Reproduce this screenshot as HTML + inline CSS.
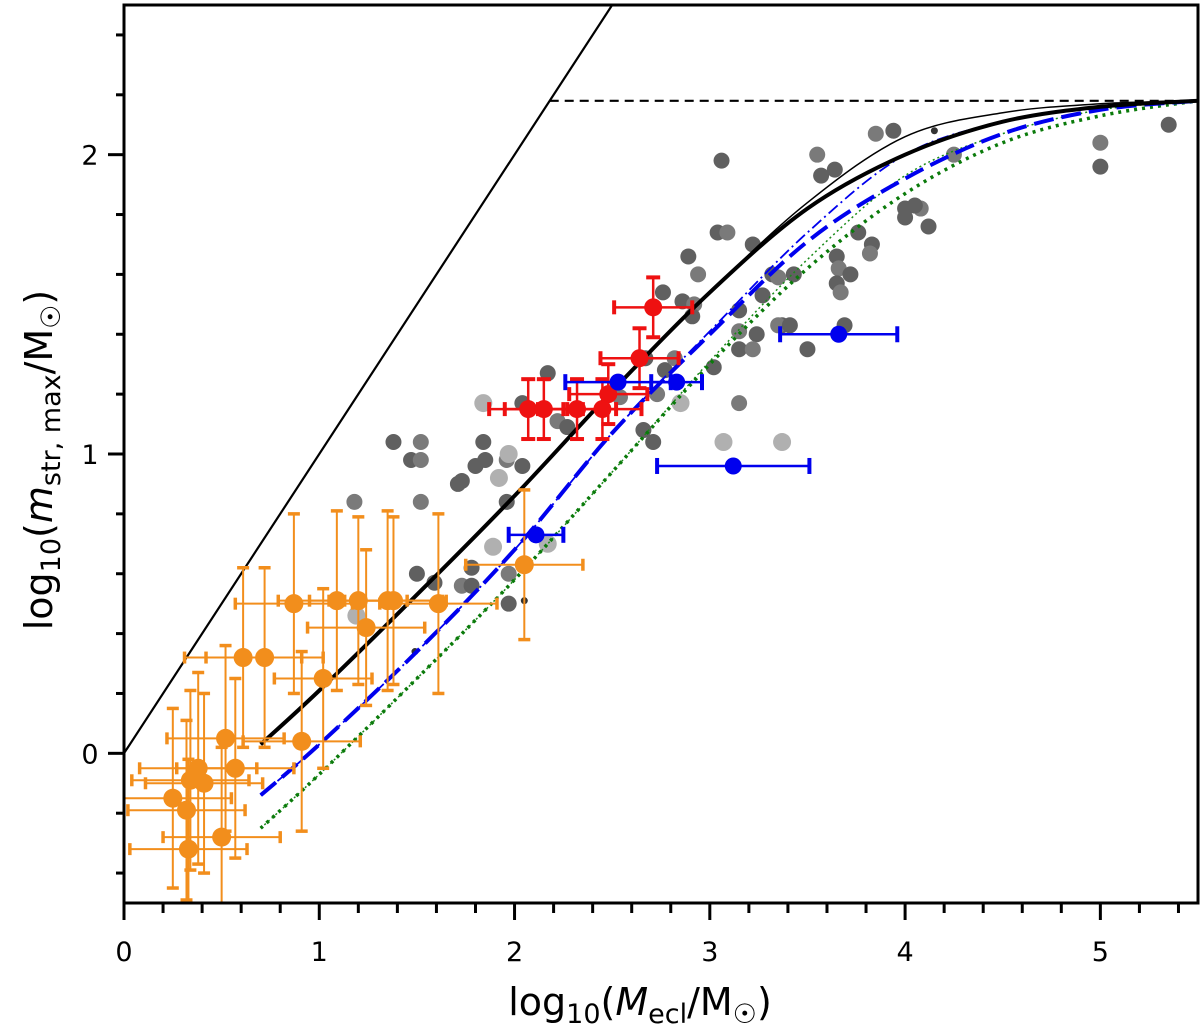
<!DOCTYPE html>
<html><head><meta charset="utf-8">
<style>
html,body{margin:0;padding:0;background:#fff;}
svg{display:block;font-family:"DejaVu Sans","Liberation Sans",sans-serif;}
</style></head>
<body>
<svg id="chart" width="1200" height="1032" viewBox="0 0 1200 1032" xmlns="http://www.w3.org/2000/svg">
<defs><clipPath id="clip"><rect x="124" y="5" width="1074" height="898"/></clipPath></defs>
<g id="plot" clip-path="url(#clip)"></g>
<g id="axes"></g>
<text x="640" y="1015" font-size="38" text-anchor="middle">log<tspan font-size="27" dy="8">10</tspan><tspan dy="-8">(</tspan><tspan font-style="italic">M</tspan><tspan font-size="27" dy="8">ecl</tspan><tspan dy="-8">/M</tspan><tspan font-size="27" dy="8">☉</tspan><tspan dy="-8">)</tspan></text>
<text transform="translate(52,460) rotate(-90)" font-size="38" text-anchor="middle">log<tspan font-size="27" dy="8">10</tspan><tspan dy="-8">(</tspan><tspan font-style="italic">m</tspan><tspan font-size="27" dy="8">str, max</tspan><tspan dy="-8">/M</tspan><tspan font-size="27" dy="8">☉</tspan><tspan dy="-8">)</tspan></text>
</svg>
<script>
// ---- data ----
const xTicks=[0,1,2,3,4,5];
const yTicks=[0,1,2];
const xTickLabels=["0","1","2","3","4","5"];
const yTickLabels=["0","1","2"];
// gray cluster points (dark)
const grayX=[3.06,3.55,3.57,3.64,3.85,3.94,3.04,3.09,3.22,2.89,2.94,2.76,2.86,2.92,2.91,3.15,3.15,3.24,3.15,3.22,3.27,3.32,3.35,3.43,3.37,3.35,3.41,3.65,3.66,3.72,3.65,3.67,3.76,3.83,3.82,3.69,3.50,3.15,2.71,2.66,2.73,2.77,2.67,2.82,2.17,2.04,2.22,2.27,1.38,1.52,1.84,1.47,1.52,1.80,1.85,1.96,2.04,1.73,1.52,1.71,1.96,1.18,1.50,1.59,1.73,1.78,1.78,1.97,1.97,4.00,5.00,5.00,5.35,4.08,4.00,4.12,4.25,4.05,3.02,2.54];
const grayY=[1.98,2.00,1.93,1.95,2.07,2.08,1.74,1.74,1.70,1.66,1.60,1.54,1.51,1.50,1.46,1.48,1.41,1.40,1.35,1.35,1.53,1.60,1.59,1.60,1.43,1.43,1.43,1.66,1.62,1.60,1.57,1.54,1.74,1.70,1.67,1.43,1.35,1.17,1.04,1.08,1.20,1.28,1.32,1.32,1.27,1.17,1.11,1.09,1.04,1.04,1.04,0.98,0.98,0.96,0.98,0.98,0.96,0.91,0.84,0.90,0.84,0.84,0.60,0.57,0.56,0.62,0.56,0.60,0.50,1.82,2.04,1.96,2.10,1.82,1.79,1.76,2.00,1.83,1.29,1.19];
// light gray points
const lightX=[3.07,3.37,2.85,1.84,1.97,1.92,1.89,2.17,1.19];
const lightY=[1.04,1.04,1.17,1.17,1.00,0.92,0.69,0.70,0.46];
// small dark points
const smallX=[2.05,1.49,4.15];
const smallY=[0.51,0.34,2.08];
// orange (with errors)
const orX=[0.87,1.09,1.20,1.35,1.38,1.61,1.24,0.61,0.72,1.02,0.52,0.91,0.38,0.57,0.34,0.41,0.25,0.32,0.50,0.33,2.05];
const orY=[0.50,0.51,0.51,0.51,0.51,0.50,0.42,0.32,0.32,0.25,0.05,0.04,-0.05,-0.05,-0.09,-0.10,-0.15,-0.19,-0.28,-0.32,0.63];
const orXerr=[0.30,0.30,0.25,0.30,0.25,0.30,0.30,0.30,0.30,0.25,0.30,0.30,0.30,0.30,0.30,0.30,0.30,0.30,0.30,0.30,0.30];
const orYerr=[0.30,0.30,0.28,0.30,0.28,0.30,0.26,0.30,0.30,0.30,0.31,0.30,0.32,0.30,0.30,0.30,0.30,0.30,0.30,0.30,0.25];
// red
const redX=[2.71,2.64,2.48,2.07,2.15,2.32,2.45];
const redY=[1.49,1.32,1.20,1.15,1.15,1.15,1.15];
const redXerr=[0.20,0.20,0.20,0.20,0.20,0.20,0.20];
const redYerr=[0.10,0.10,0.10,0.10,0.10,0.10,0.10];
// blue
const blueX=[2.53,2.83,3.66,3.12,2.11];
const blueY=[1.24,1.24,1.40,0.96,0.73];
const blueXerr=[0.27,0.13,0.30,0.39,0.14];
// model curves
const curveX=[0.7,1.0,1.5,2.0,2.5,3.0,3.5,4.0,4.5,5.0,5.5];
const blackThick=[0.03,0.21,0.53,0.86,1.21,1.54,1.82,2.00,2.11,2.16,2.18];
const blackThin=[0.03,0.21,0.53,0.86,1.21,1.54,1.84,2.06,2.14,2.17,2.18];
const blueDash=[-0.14,0.03,0.34,0.68,1.07,1.40,1.71,1.92,2.07,2.15,2.18];
const blueDashDot=[-0.14,0.03,0.34,0.68,1.07,1.41,1.74,2.00,2.11,2.16,2.18];
const greenDot=[-0.25,-0.07,0.25,0.58,0.94,1.30,1.62,1.87,2.04,2.13,2.18];
const greenThin=[-0.25,-0.07,0.25,0.58,0.94,1.31,1.65,1.93,2.07,2.15,2.18];
const diagX=[0,2.6];
const diagY=[0,2.6];
const capValue=2.18;

// ---- axis functions ----
const X0=124,X1=1198,Y0=903,Y1=5,XMIN=0,XMAX=5.5,YMIN=-0.5,YMAX=2.5;
const sx=v=>X0+(v-XMIN)/(XMAX-XMIN)*(X1-X0);
const sy=v=>Y0-(v-YMIN)/(YMAX-YMIN)*(Y0-Y1);
const NS="http://www.w3.org/2000/svg";
const plot=document.getElementById('plot');
const axes=document.getElementById('axes');
function mk(tag,attrs,parent){const e=document.createElementNS(NS,tag);for(const k in attrs)e.setAttribute(k,attrs[k]);parent.appendChild(e);return e;}
function line(xs,ys,style,name){
  const d=xs.map((x,i)=>(i?'L':'M')+sx(x).toFixed(1)+','+sy(ys[i]).toFixed(1)).join('');
  const p=mk('path',Object.assign({d:d,fill:'none'},style),plot);
  
  
}
function smooth(xs,ys,style,name){
  let d='M'+sx(xs[0]).toFixed(1)+','+sy(ys[0]).toFixed(1);
  for(let i=0;i<xs.length-1;i++){
    const x0=sx(xs[Math.max(i-1,0)]),y0=sy(ys[Math.max(i-1,0)]);
    const x1=sx(xs[i]),y1=sy(ys[i]),x2=sx(xs[i+1]),y2=sy(ys[i+1]);
    const x3=sx(xs[Math.min(i+2,xs.length-1)]),y3=sy(ys[Math.min(i+2,xs.length-1)]);
    d+='C'+(x1+(x2-x0)/6).toFixed(1)+','+(y1+(y2-y0)/6).toFixed(1)+' '+(x2-(x3-x1)/6).toFixed(1)+','+(y2-(y3-y1)/6).toFixed(1)+' '+x2.toFixed(1)+','+y2.toFixed(1);
  }
  const p=mk('path',Object.assign({d:d,fill:'none'},style),plot);
  
  
}
function dot(x,y,r,fill,name){
  const c=mk('circle',{cx:sx(x),cy:sy(y),r:r,fill:fill},plot);
  
  
}
function errbar(x,y,xe,ye,color,w,cap,name){
  const g=mk('g',{stroke:color,'stroke-width':w,fill:'none'},plot);
  
  
  if(xe>0){
    mk('line',{x1:sx(x-xe),x2:sx(x+xe),y1:sy(y),y2:sy(y)},g);
    mk('line',{x1:sx(x-xe),x2:sx(x-xe),y1:sy(y)-cap,y2:sy(y)+cap,'stroke-width':w+1.5},g);
    mk('line',{x1:sx(x+xe),x2:sx(x+xe),y1:sy(y)-cap,y2:sy(y)+cap,'stroke-width':w+1.5},g);
  }
  if(ye>0){
    mk('line',{x1:sx(x),x2:sx(x),y1:sy(y-ye),y2:sy(y+ye)},g);
    mk('line',{x1:sx(x)-cap,x2:sx(x)+cap,y1:sy(y-ye),y2:sy(y-ye),'stroke-width':w+1.5},g);
    mk('line',{x1:sx(x)-cap,x2:sx(x)+cap,y1:sy(y+ye),y2:sy(y+ye),'stroke-width':w+1.5},g);
  }
}

// gray points
grayX.forEach((x,i)=>dot(x,grayY[i],8,i%3===1?'#7a7a7a':'#606060','gray-cluster-point'));
lightX.forEach((x,i)=>dot(x,lightY[i],9,'#b0b0b0','light-gray-point'));
smallX.forEach((x,i)=>dot(x,smallY[i],3.5,'#333','small-dark-point'));

// reference lines
line(diagX,diagY,{stroke:'#000','stroke-width':2.2},'one-to-one-line');
line([capValue,XMAX],[capValue,capValue],{stroke:'#000','stroke-width':2.2,'stroke-dasharray':'9,6'},'upper-limit-dashed-line');

// model curves
smooth(curveX,greenThin,{stroke:'#1a8a1a','stroke-width':1.5,'stroke-dasharray':'2,3'},'green-thin-dotted-curve');
smooth(curveX,greenDot,{stroke:'#0a7a0a','stroke-width':3.5,'stroke-dasharray':'3,5'},'green-dotted-curve');
smooth(curveX,blueDashDot,{stroke:'#0000ee','stroke-width':1.8,'stroke-dasharray':'12,4,2,4'},'blue-dashdot-curve');
smooth(curveX,blueDash,{stroke:'#0000ee','stroke-width':4,'stroke-dasharray':'20,8'},'blue-dashed-curve');
smooth(curveX,blackThin,{stroke:'#000','stroke-width':1.5},'black-thin-curve');
smooth(curveX,blackThick,{stroke:'#000','stroke-width':4},'black-thick-curve');

// orange
orX.forEach((x,i)=>errbar(x,orY[i],orXerr[i],orYerr[i],'#f28e1c',2,6,'orange-error-bar'));
orX.forEach((x,i)=>dot(x,orY[i],9.5,'#f28e1c','orange-point'));
// red
redX.forEach((x,i)=>errbar(x,redY[i],redXerr[i],redYerr[i],'#ee1111',2.5,7,'red-error-bar'));
redX.forEach((x,i)=>dot(x,redY[i],9,'#ee1111','red-point'));
// blue
blueX.forEach((x,i)=>errbar(x,blueY[i],blueXerr[i],0,'#0000ee',2.5,8,'blue-error-bar'));
blueX.forEach((x,i)=>dot(x,blueY[i],8.5,'#0000ee','blue-point'));

// frame & ticks
const fr=mk('rect',{x:X0,y:Y1,width:X1-X0,height:Y0-Y1,fill:'none',stroke:'#000','stroke-width':3},axes);


for(let v=0;v<=5.5+1e-6;v+=0.2){
  const major=Math.abs(v-Math.round(v))<1e-6;
  const t=mk('line',{x1:sx(v),x2:sx(v),y1:Y0,y2:Y0+(major?17:10),stroke:'#000','stroke-width':3},axes);
  
  
}
for(let v=-0.4;v<=2.5;v+=0.2){
  const vv=Math.round(v*10)/10;
  const major=Math.abs(vv-Math.round(vv))<1e-6;
  const t=mk('line',{x1:X0-(major?16:8),x2:X0,y1:sy(vv),y2:sy(vv),stroke:'#000','stroke-width':3},axes);
  
  
}
xTicks.forEach((v,i)=>{
  const t=mk('text',{x:sx(v),y:961,'font-size':27,'text-anchor':'middle',fill:'#000'},axes);
  t.textContent=xTickLabels[i];
  
  
});
yTicks.forEach((v,i)=>{
  const t=mk('text',{x:90,y:sy(v)+10,'font-size':27,'text-anchor':'middle',fill:'#000'},axes);
  t.textContent=yTickLabels[i];
  
  
});
</script>
</body></html>
